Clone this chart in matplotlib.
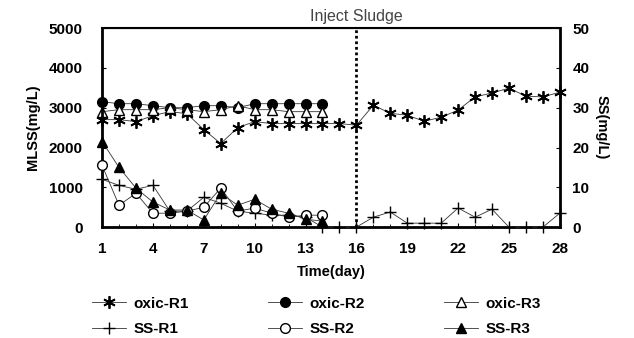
import matplotlib
matplotlib.use("Agg")
import matplotlib.pyplot as plt
from matplotlib.lines import Line2D
import numpy as np

plt.rcParams['font.family'] = ['Liberation Sans', 'DejaVu Sans']

days_all = list(range(1, 29))
days_14 = list(range(1, 15))

oxic_r1 = [2700, 2700, 2650, 2800, 2900, 2850, 2450, 2100, 2500, 2650, 2600, 2600, 2600, 2600,
           2600, 2560, 3060, 2860, 2810, 2660, 2760, 2940, 3270, 3370, 3490, 3290, 3270, 3390]
oxic_r2 = [3150, 3100, 3100, 3050, 3000, 3000, 3050, 3050, 3000, 3100, 3100, 3100, 3100, 3100]
oxic_r3 = [2900, 2950, 2950, 2950, 3000, 2950, 2900, 2950, 3050, 2950, 2950, 2900, 2900, 2900]

ss_r1 = [12, 10.5, 9.5, 10.5, 4, 4, 7.5, 6, 4, 3.5, 3, 3, 2.5, 0,
         0, 0, 2.5, 3.8, 1, 1, 1, 4.8, 2.5, 4.5, 0, 0, 0, 3.5]
ss_r2 = [15.5, 5.5, 8.5, 3.5, 3.5, 4, 5, 9.8, 4, 4.8, 3.5, 2.5, 3, 3]
ss_r3 = [21.5, 15, 9.8, 6.3, 4.3, 4.3, 1.8, 8.5, 5.5, 7, 4.5, 3.5, 2, 1.5]

xticks = [1, 4, 7, 10, 13, 16, 19, 22, 25, 28]

fig = plt.figure(figsize=(6.34, 3.38), dpi=100)
ax = fig.add_axes([0.161, 0.328, 0.722, 0.589])
ax2 = ax.twinx()

lw = 0.6
ms = 7
lc = '#333333'
ax.plot(days_all, oxic_r1, color=lc, lw=lw, marker=(6, 2, 0), ms=ms + 2, mew=1.3, mec='black', clip_on=False, zorder=3)
ax.plot(days_14, oxic_r2, color=lc, lw=lw, marker='o', ms=ms, mfc='black', mec='black', clip_on=False, zorder=3)
ax.plot(days_14, oxic_r3, color=lc, lw=lw, marker='^', ms=ms, mfc='white', mec='black', clip_on=False, zorder=3)

ax2.plot(days_all, ss_r1, color=lc, lw=lw, marker='+', ms=ms + 2, mew=1.0, mec='black', clip_on=False, zorder=3)
ax2.plot(days_14, ss_r2, color=lc, lw=lw, marker='o', ms=ms, mfc='white', mec='black', clip_on=False, zorder=3)
ax2.plot(days_14, ss_r3, color=lc, lw=lw, marker='^', ms=ms, mfc='black', mec='black', clip_on=False, zorder=3)

ax.axvline(16, color='black', lw=2, ls=(0, (1, 1)), zorder=2)
ax.text(16, 5100, 'Inject Sludge', ha='center', va='bottom', fontsize=11.5, color='#444444')

ax.set_xlim(1, 28)
ax.set_ylim(0, 5000)
ax2.set_ylim(0, 50)
ax.set_xticks(xticks)
ax.set_xticks(days_all, minor=True)
ax.set_yticks([0, 1000, 2000, 3000, 4000, 5000])
ax2.set_yticks([0, 10, 20, 30, 40, 50])

for a in (ax, ax2):
    a.tick_params(direction='in', length=3, width=0.8, labelsize=11)
    a.tick_params(which='minor', direction='in', length=2.5, width=0.6)
    for lbl in a.get_yticklabels() + a.get_xticklabels():
        lbl.set_fontweight('bold')
ax.tick_params(axis='x', pad=11)
ax.tick_params(axis='y', pad=14)
ax2.tick_params(axis='y', pad=9)

for side in ['left', 'bottom', 'right']:
    ax2.spines[side].set_linewidth(2)
ax2.spines['top'].set_linewidth(1.5)

ax.set_ylabel('MLSS(mg/L)', fontsize=10.5, fontweight='bold', labelpad=6)
ax2.set_ylabel('SS(mg/L)', fontsize=10.5, fontweight='bold', rotation=270, labelpad=14)
ax.set_xlabel('Time(day)', fontsize=10.5, fontweight='bold', labelpad=6)

handles = [
    Line2D([], [], color=lc, lw=lw, marker=(6, 2, 0), ms=ms + 2, mew=1.3, mec='black'),
    Line2D([], [], color=lc, lw=lw, marker='+', ms=ms + 2, mec='black'),
    Line2D([], [], color=lc, lw=lw, marker='o', ms=ms, mfc='black', mec='black'),
    Line2D([], [], color=lc, lw=lw, marker='o', ms=ms, mfc='white', mec='black'),
    Line2D([], [], color=lc, lw=lw, marker='^', ms=ms, mfc='white', mec='black'),
    Line2D([], [], color=lc, lw=lw, marker='^', ms=ms, mfc='black', mec='black'),
]
labels = ['oxic-R1', 'SS-R1', 'oxic-R2', 'SS-R2', 'oxic-R3', 'SS-R3']
leg = fig.legend(handles, labels, ncol=3, loc='upper left', bbox_to_anchor=(92 / 634, 0.122),
                 frameon=False, fontsize=11, columnspacing=5.2, handlelength=2.2,
                 handletextpad=0.5, labelspacing=0.75, borderpad=0, borderaxespad=0)
for t in leg.get_texts():
    t.set_fontweight('bold')

fig.savefig('out.png', dpi=100)
